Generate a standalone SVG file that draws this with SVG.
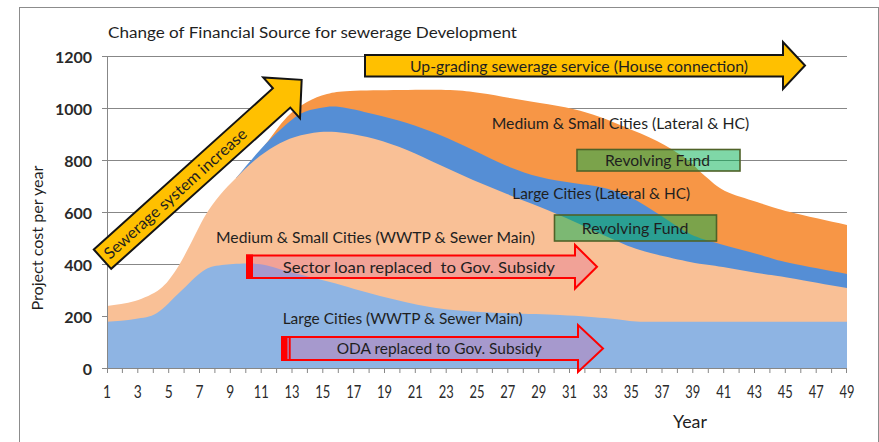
<svg xmlns="http://www.w3.org/2000/svg" width="879" height="442" viewBox="0 0 879 442">
  <style>
    .t { font-family: Lato, "Liberation Sans", sans-serif; fill: #1f1f1f; }
    .lbl { font-size: 16px; }
    .ytick { font-size: 16px; font-weight: bold; fill: #2a2a2a; text-anchor: end; }
    .xtick { font-size: 17px; fill: #2a2a2a; text-anchor: middle; }
    .grid { stroke: #878787; stroke-width: 1; fill: none; }
    .axis { stroke: #878787; stroke-width: 1; fill: none; }
    .yel { fill: #FFC000; stroke: #141414; stroke-width: 2; stroke-linejoin: miter; }
    .red { fill: #DE5D9D; fill-opacity: 0.3; stroke: #FF0000; stroke-width: 2; }
    .fund { fill: #00B050; fill-opacity: 0.5; stroke: #4F6228; stroke-width: 1.6; }
  </style>

  <rect x="0" y="0" width="879" height="442" fill="#ffffff"/>
  <!-- chart frame -->
  <rect id="chart-frame" x="19.5" y="7.5" width="859" height="445" fill="none" stroke="#8c8c8c" stroke-width="1"/>

  <text id="title" class="t" x="108" y="37.5" font-size="14.5" fill="#3a3a3a" textLength="409" lengthAdjust="spacingAndGlyphs">Change of Financial Source for sewerage Development</text>

  <!-- horizontal gridlines -->
  <g id="gridlines" class="grid">
    <path d="M107,56.5H847M107,108.5H847M107,160.5H847M107,212.5H847M107,264.5H847M107,316.5H847"/>
  </g>

  <!-- stacked areas, top series first, each filled down to the axis -->
  <g id="areas">
    <path id="area-ms-lateral" fill="#F79646" d="M265,145 C272.3,135.7 280,124.2 287,117 S300.3,105.8 307,102 S319.8,95.8 327,94 S337.8,91.7 350,91 S383.3,90.2 400,90 S436.7,89.5 450,90 S470,91.7 480,93 S500,96.3 510,98 S529.5,101.2 540,103 S563,106.7 573,109 S591.3,114 600,117 S615.5,123 625,127 S647,135.8 657,141 S677,152.2 685,158 S698.3,170.5 705,176 S716.3,186.7 725,191 S746.2,198.5 757,202 S775,208.2 790,212 S828,220.7 847,225 L847,368 L265,368 Z"/>
    <path id="area-large-lateral" fill="#558ED5" d="M236,178 C244,168.7 252.7,158 260,150 S273.3,136 280,130 S293.3,117.7 300,114 S313.3,109.2 320,108 S331.2,106 340,107 S361.8,111.3 373,114 S395.8,119.5 407,123 S429,130.5 440,135 S461.8,144.8 473,150 S495.8,161.5 507,166 S529,174.2 540,177 S563,181.3 573,183 S590.5,184.7 600,187 S620,192.3 630,197 S650,208.8 660,215 S680,229.2 690,234 S708.8,240.7 720,244 S745.3,250.8 757,254 S775,259.7 790,263 S828,270.3 847,274 L847,368 L236,368 Z"/>
    <path id="area-ms-wwtp" fill="#F9C096" d="M107,306 C116,304.5 126.2,303.8 135,301 S153.2,294.2 160,289 S171,277.3 176,270 S185.2,254 190,245 S200,224.3 205,216 S214.8,201.3 220,195 S230.2,183.8 236,178 S248.5,165.3 255,160 S268.3,149.8 275,146 S287.5,139.3 295,137 S311.7,132.7 320,132 S335.8,131.8 345,133 S364.7,136.2 375,139 S396.2,145.7 407,150 S429,160 440,165 S461.8,175.2 473,180 S495.8,189.5 507,194 S528.7,202.3 540,207 S563.3,216.8 575,222 S599.2,233.3 610,238 S626.7,246 640,250 S676.2,259.2 690,262 S711.8,265.2 723,267 S745.8,271.2 757,273 S775,275.5 790,278 S828,285 847,288 L847,368 L107,368 Z"/>
    <path id="area-large-wwtp" fill="#8EB4E3" d="M107,321.7 C116,321 126.7,320.45 135,319 S149.5,317.5 157,313 S172.3,299 180,292 S196,275.5 203,271 S212.8,266.2 222,265 S246.7,262.8 258,264 S278,269 290,272 S315,278 330,282 S363.3,291.8 380,296 S413.3,304.3 430,307 S458.3,310.7 480,312 S538.3,313.9 560,315 S596.7,317.4 610,318.5 S630,321.7 640,321.7 L847,321.7 L847,368 L107,368 Z"/>
  </g>

  <!-- axes -->
  <g id="axes" class="axis">
    <path d="M107.5,56V368.5H847"/>
    <path d="M102,56.5H107M102,108.5H107M102,160.5H107M102,212.5H107M102,264.5H107M102,316.5H107M102,368.5H107"/>
    <path d="M107.5,368v5M122.4,368v5M137.8,368v5M153.3,368v5M168.7,368v5M184.1,368v5M199.5,368v5M214.9,368v5M230.3,368v5M245.8,368v5M261.2,368v5M276.6,368v5M292,368v5M307.4,368v5M322.8,368v5M338.3,368v5M353.7,368v5M369.1,368v5M384.5,368v5M399.9,368v5M415.3,368v5M430.8,368v5M446.2,368v5M461.6,368v5M477,368v5M492.4,368v5M507.8,368v5M523.3,368v5M538.7,368v5M554.1,368v5M569.5,368v5M584.9,368v5M600.3,368v5M615.8,368v5M631.2,368v5M646.6,368v5M662,368v5M677.4,368v5M692.8,368v5M708.3,368v5M723.7,368v5M739.1,368v5M754.5,368v5M769.9,368v5M785.3,368v5M800.8,368v5M816.2,368v5M831.6,368v5M846.5,368v5"/>
  </g>

  <g id="y-labels" class="t ytick">
    <text x="92" y="63.3">1200</text>
    <text x="92" y="115.3">1000</text>
    <text x="92" y="167.3">800</text>
    <text x="92" y="219.3">600</text>
    <text x="92" y="271.3">400</text>
    <text x="92" y="323.3">200</text>
    <text x="92" y="375.3">0</text>
  </g>
  <text id="y-title" class="t" font-size="16" text-anchor="middle" textLength="145" lengthAdjust="spacingAndGlyphs" transform="translate(43,238) rotate(-90)">Project cost per year</text>

  <g id="x-labels" class="t xtick">
    <text x="107" y="397.5" textLength="8" lengthAdjust="spacingAndGlyphs">1</text>
    <text x="137.8" y="397.5" textLength="8" lengthAdjust="spacingAndGlyphs">3</text>
    <text x="168.7" y="397.5" textLength="8" lengthAdjust="spacingAndGlyphs">5</text>
    <text x="199.5" y="397.5" textLength="8" lengthAdjust="spacingAndGlyphs">7</text>
    <text x="230.3" y="397.5" textLength="8" lengthAdjust="spacingAndGlyphs">9</text>
    <text x="261.2" y="397.5" textLength="15" lengthAdjust="spacingAndGlyphs">11</text>
    <text x="292" y="397.5" textLength="15" lengthAdjust="spacingAndGlyphs">13</text>
    <text x="322.8" y="397.5" textLength="15" lengthAdjust="spacingAndGlyphs">15</text>
    <text x="353.7" y="397.5" textLength="15" lengthAdjust="spacingAndGlyphs">17</text>
    <text x="384.5" y="397.5" textLength="15" lengthAdjust="spacingAndGlyphs">19</text>
    <text x="415.3" y="397.5" textLength="15" lengthAdjust="spacingAndGlyphs">21</text>
    <text x="446.2" y="397.5" textLength="15" lengthAdjust="spacingAndGlyphs">23</text>
    <text x="477" y="397.5" textLength="15" lengthAdjust="spacingAndGlyphs">25</text>
    <text x="507.8" y="397.5" textLength="15" lengthAdjust="spacingAndGlyphs">27</text>
    <text x="538.7" y="397.5" textLength="15" lengthAdjust="spacingAndGlyphs">29</text>
    <text x="569.5" y="397.5" textLength="15" lengthAdjust="spacingAndGlyphs">31</text>
    <text x="600.3" y="397.5" textLength="15" lengthAdjust="spacingAndGlyphs">33</text>
    <text x="631.2" y="397.5" textLength="15" lengthAdjust="spacingAndGlyphs">35</text>
    <text x="662" y="397.5" textLength="15" lengthAdjust="spacingAndGlyphs">37</text>
    <text x="692.8" y="397.5" textLength="15" lengthAdjust="spacingAndGlyphs">39</text>
    <text x="723.7" y="397.5" textLength="15" lengthAdjust="spacingAndGlyphs">41</text>
    <text x="754.5" y="397.5" textLength="15" lengthAdjust="spacingAndGlyphs">43</text>
    <text x="785.3" y="397.5" textLength="15" lengthAdjust="spacingAndGlyphs">45</text>
    <text x="816.2" y="397.5" textLength="15" lengthAdjust="spacingAndGlyphs">47</text>
    <text x="847" y="397.5" textLength="15" lengthAdjust="spacingAndGlyphs">49</text>
  </g>
  <text id="x-title" class="t" x="673" y="428" font-size="17" fill="#2a2a2a" textLength="34" lengthAdjust="spacingAndGlyphs">Year</text>

  <!-- series labels -->
  <g id="series-labels" class="t lbl">
    <text x="491.7" y="129.3" textLength="257.6" lengthAdjust="spacingAndGlyphs">Medium &amp; Small Cities (Lateral &amp; HC)</text>
    <text x="512.3" y="199" textLength="177.7" lengthAdjust="spacingAndGlyphs">Large Cities (Lateral &amp; HC)</text>
    <text x="216" y="242.7" textLength="319" lengthAdjust="spacingAndGlyphs">Medium &amp; Small Cities (WWTP &amp; Sewer Main)</text>
    <text x="282.7" y="324.3" textLength="240" lengthAdjust="spacingAndGlyphs">Large Cities (WWTP &amp; Sewer Main)</text>
  </g>

  <!-- revolving fund boxes -->
  <g id="fund-ms">
    <rect class="fund" x="577" y="149.5" width="163" height="21.5"/>
    <text class="t lbl" x="605" y="165.7" textLength="105" lengthAdjust="spacingAndGlyphs">Revolving Fund</text>
  </g>
  <g id="fund-large">
    <rect class="fund" x="554.5" y="215" width="162" height="26"/>
    <text class="t lbl" x="581.7" y="234" textLength="106.7" lengthAdjust="spacingAndGlyphs">Revolving Fund</text>
  </g>

  <!-- block arrows -->
  <g id="arrow-growth" transform="translate(102.5,259.2) rotate(-42)">
    <path class="yel" d="M0,-13 L241,-13 L241,-27.5 L268,0 L241,27.5 L241,13 L0,13 Z"/>
    <text class="t lbl" x="5" y="5.5" textLength="186" lengthAdjust="spacingAndGlyphs">Sewerage system increase</text>
  </g>
  <g id="arrow-upgrade">
    <path class="yel" d="M365,55 L783,55 L783,42 L805,65.5 L783,89 L783,76.5 L365,76.5 Z"/>
    <text class="t lbl" x="410" y="71.7" textLength="338" lengthAdjust="spacingAndGlyphs">Up-grading sewerage service (House connection)</text>
  </g>
  <g id="arrow-sector-loan">
    <path class="red" d="M247,255.5 L575,255.5 L575,245 L597,266.7 L575,288.5 L575,278 L247,278 Z"/>
    <rect x="246" y="254.5" width="7" height="24.5" fill="#FF0000"/>
    <text class="t lbl" x="282.7" y="272.7" textLength="272.3" lengthAdjust="spacingAndGlyphs" xml:space="preserve">Sector loan replaced  to Gov. Subsidy</text>
  </g>
  <g id="arrow-oda">
    <path class="red" d="M282,337 L578,337 L578,325 L603,348.5 L578,372 L578,360 L282,360 Z"/>
    <rect x="281" y="336" width="6.5" height="25" fill="#FF0000"/>
    <rect x="288.7" y="336" width="2" height="25" fill="#FF0000"/>
    <text class="t lbl" x="336.7" y="354" textLength="205" lengthAdjust="spacingAndGlyphs">ODA replaced to Gov. Subsidy</text>
  </g>
</svg>
